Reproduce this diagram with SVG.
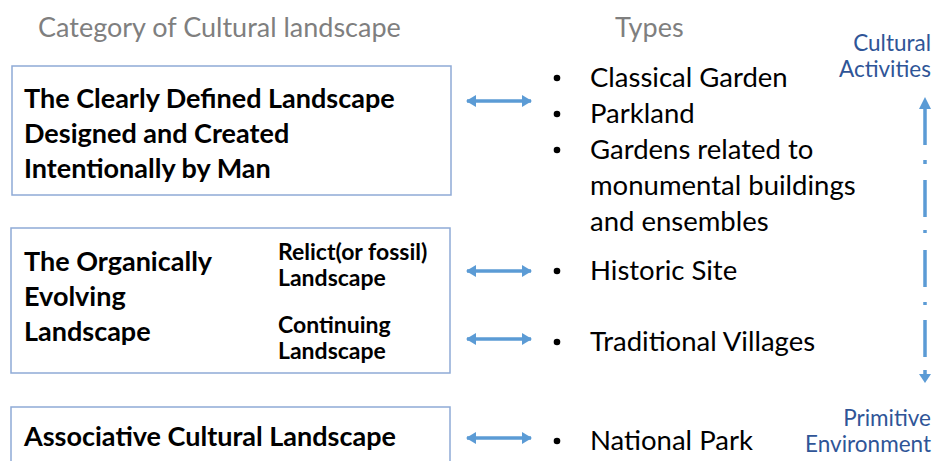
<svg xmlns="http://www.w3.org/2000/svg" width="938" height="461" viewBox="0 0 938 461">
<style>
text{font-family:Lato,"Open Sans","Liberation Sans",sans-serif}
.hdr{font-size:27px;fill:#7f7f7f}
.cat{font-size:27px;font-weight:bold;fill:#000}
.sub{font-size:23px;font-weight:bold;fill:#000}
.typ{font-size:27.5px;fill:#000}
.side{font-size:22.5px;fill:#2f5597;text-anchor:end}
.box{fill:#fff;stroke:#8faad6;stroke-width:1.5}
.arr{stroke:#5b9bd5;stroke-width:3.5;fill:none}
.head{fill:#5b9bd5}
</style>
<defs>
<marker id="ah" viewBox="0 0 10 12" refX="9" refY="6" markerWidth="10" markerHeight="12" markerUnits="userSpaceOnUse" orient="auto-start-reverse">
<path d="M0,0 L10,6 L0,12 Z" fill="#5b9bd5"/>
</marker>
</defs>
<text class="hdr" x="38" y="37">Category of Cultural landscape</text>
<text class="hdr" x="615" y="37">Types</text>
<g id="node-designed">
<rect class="box" x="12" y="66" width="439" height="129"/>
<text class="cat" x="24" y="108">The Clearly Defined Landscape</text>
<text class="cat" x="24" y="143">Designed and Created</text>
<text class="cat" x="24" y="178">Intentionally by Man</text>
</g>
<g id="node-organic">
<rect class="box" x="11" y="228" width="439" height="145"/>
<text class="cat" x="24" y="271">The Organically</text>
<text class="cat" x="24" y="306">Evolving</text>
<text class="cat" x="24" y="341">Landscape</text>
<text class="sub" x="278" y="260">Relict(or fossil)</text>
<text class="sub" x="278" y="286">Landscape</text>
<text class="sub" x="278" y="333">Continuing</text>
<text class="sub" x="278" y="359">Landscape</text>
</g>
<g id="node-associative">
<rect class="box" x="11" y="407" width="439" height="70"/>
<text class="cat" x="24" y="446">Associative Cultural Landscape</text>
</g>
<g id="node-types1">
<circle cx="557" cy="78" r="3.3"/>
<text class="typ" x="590" y="87">Classical Garden</text>
<circle cx="557" cy="114" r="3.3"/>
<text class="typ" x="590" y="123">Parkland</text>
<circle cx="557" cy="150" r="3.3"/>
<text class="typ" x="590" y="159">Gardens related to</text>
<text class="typ" x="590" y="195">monumental buildings</text>
<text class="typ" x="590" y="231">and ensembles</text>
</g>
<g id="node-historic">
<circle cx="557" cy="271" r="3.3"/>
<text class="typ" x="590" y="280">Historic Site</text>
</g>
<g id="node-villages">
<circle cx="557" cy="342" r="3.3"/>
<text class="typ" x="590" y="351">Traditional Villages</text>
</g>
<g id="node-park">
<circle cx="557" cy="441" r="3.3"/>
<text class="typ" x="590" y="450">National Park</text>
</g>
<g id="node-cultural">
<text class="side" x="931" y="51">Cultural</text>
<text class="side" x="931" y="77">Activities</text>
</g>
<g id="node-primitive">
<text class="side" x="931" y="426">Primitive</text>
<text class="side" x="931" y="452">Environment</text>
</g>
<g id="connectors">
<line class="arr" x1="467" y1="101" x2="531" y2="101" marker-start="url(#ah)" marker-end="url(#ah)"/>
<line class="arr" x1="467" y1="271" x2="531" y2="271" marker-start="url(#ah)" marker-end="url(#ah)"/>
<line class="arr" x1="467" y1="339" x2="531" y2="339" marker-start="url(#ah)" marker-end="url(#ah)"/>
<line class="arr" x1="467" y1="438" x2="531" y2="438" marker-start="url(#ah)" marker-end="url(#ah)"/>
<path class="arr" d="M925,145 V105 M925,160 V164 M925,180 V217 M925,230 V233 M925,250 V287 M925,302 V305 M925,320 V357 M925,370 V374"/>
<path class="head" d="M925,97 L931,109 L919,109 Z"/>
<path class="head" d="M925,383 L931,374 L919,374 Z"/>
</g>
</svg>
